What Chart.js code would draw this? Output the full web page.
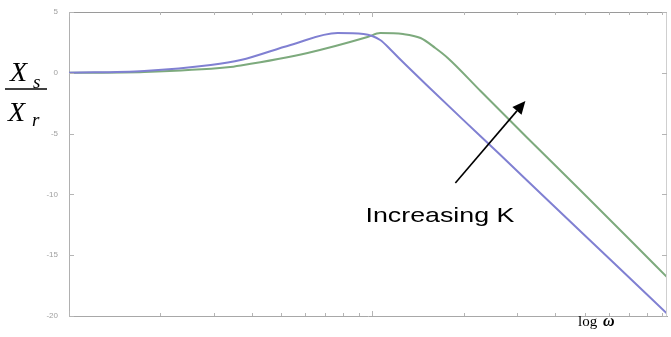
<!DOCTYPE html>
<html>
<head>
<meta charset="utf-8">
<script src="https://cdn.jsdelivr.net/npm/chart.js@4"></script>
<style>
  html, body { margin: 0; padding: 0; background: #fff; }
  #wrap { width: 671px; height: 337px; position: relative; }
</style>
</head>
<body>
<div id="wrap"><canvas id="bode"></canvas></div>
<script>
// frequency (log axis, arbitrary units) and magnitude in dB
const blueFreq = [0.1, 0.177, 0.293, 0.368, 0.537, 0.767, 0.934, 1.06, 1.15, 1.24, 1.55, 1.99, 2.64, 3.85, 6.07, 9.34];
const blueDb   = [0.0, 0.15, 0.64, 1.05, 2.29, 3.27, 3.19, 2.70, 1.88, 1.05, -1.29, -3.87, -6.76, -10.67, -15.35, -19.8];
const greenFreq = [0.1, 0.177, 0.333, 0.368, 0.611, 0.963, 1.06, 1.26, 1.44, 1.61, 1.77, 2.27, 3.24, 4.83, 7.06, 9.34];
const greenDb   = [0.0, 0.07, 0.45, 0.6, 1.63, 2.94, 3.27, 3.19, 2.86, 2.04, 1.22, -1.5, -5.36, -9.64, -13.75, -16.8];
const yTicks = [5, 0, -5, -10, -15, -20];
const xMajor = [0.1, 1];
const xMinor = [0.2, 0.3, 0.4, 0.5, 0.6, 0.7, 0.8, 0.9, 2, 3, 4, 5, 6, 7, 8, 9];

// annotation: arrow tail/head and label anchor, in data units
const arrowTail = [1.875, -9.06];
const arrowHead = [3.19, -2.32];
const labelPos = [0.948, -12.27];
const labelText = "Increasing K";

function toPoints(xs, ys) {
  return xs.map((x, i) => ({ x: x, y: ys[i] }));
}

const decorPlugin = {
  id: 'decor',
  afterDraw(chart) {
    const ctx = chart.ctx;
    const a = chart.chartArea;
    const xs = chart.scales.x;
    const ys = chart.scales.y;

    ctx.save();
    // top and right frame lines
    ctx.strokeStyle = '#9a9a9a';
    ctx.lineWidth = 1;
    ctx.beginPath();
    ctx.moveTo(a.left, a.top + 0.5);
    ctx.lineTo(a.right, a.top + 0.5);
    ctx.stroke();
    ctx.strokeStyle = '#cfcfcf';
    ctx.beginPath();
    ctx.moveTo(a.right - 0.5, a.top);
    ctx.lineTo(a.right - 0.5, a.bottom);
    ctx.stroke();

    // inward tick marks
    ctx.strokeStyle = '#b5b5b5';
    function xtick(v, len) {
      const p = Math.round(xs.getPixelForValue(v)) + 0.5;
      ctx.beginPath();
      ctx.moveTo(p, a.top);
      ctx.lineTo(p, a.top + len);
      ctx.moveTo(p, a.bottom);
      ctx.lineTo(p, a.bottom - len);
      ctx.stroke();
    }
    xMinor.forEach(v => xtick(v, 3));
    xMajor.forEach(v => xtick(v, 5));
    yTicks.forEach(v => {
      const p = Math.round(ys.getPixelForValue(v)) + 0.5;
      ctx.beginPath();
      ctx.moveTo(a.left, p);
      ctx.lineTo(a.left + 5, p);
      ctx.moveTo(a.right, p);
      ctx.lineTo(a.right - 5, p);
      ctx.stroke();
    });

    // arrow
    const tx = xs.getPixelForValue(arrowTail[0]), ty = ys.getPixelForValue(arrowTail[1]);
    const hx = xs.getPixelForValue(arrowHead[0]), hy = ys.getPixelForValue(arrowHead[1]);
    const ang = Math.atan2(hy - ty, hx - tx);
    const headLen = 13, headW = 6;
    const bx = hx - headLen * Math.cos(ang), by = hy - headLen * Math.sin(ang);
    ctx.strokeStyle = '#000';
    ctx.fillStyle = '#000';
    ctx.lineWidth = 1.6;
    ctx.beginPath();
    ctx.moveTo(tx, ty);
    ctx.lineTo(bx, by);
    ctx.stroke();
    ctx.beginPath();
    ctx.moveTo(hx, hy);
    ctx.lineTo(bx + headW * Math.sin(ang), by - headW * Math.cos(ang));
    ctx.lineTo(bx - headW * Math.sin(ang), by + headW * Math.cos(ang));
    ctx.closePath();
    ctx.fill();

    // "Increasing K" label, stretched like the scanned figure
    const lx = xs.getPixelForValue(labelPos[0]), ly = ys.getPixelForValue(labelPos[1]);
    ctx.font = '21px "Liberation Sans", Arial, sans-serif';
    ctx.textBaseline = 'alphabetic';
    const w = ctx.measureText(labelText).width;
    ctx.save();
    ctx.translate(lx, ly);
    ctx.scale(149 / w, 1);
    ctx.fillText(labelText, 0, 0);
    ctx.restore();

    // Xs / Xr label
    ctx.fillStyle = '#000';
    ctx.font = 'italic 28px "Liberation Serif", "Times New Roman", serif';
    ctx.fillText('X', 10, 81);
    ctx.fillText('X', 8, 121);
    ctx.font = 'italic 19px "Liberation Serif", "Times New Roman", serif';
    ctx.fillText('s', 33, 88);
    ctx.fillText('r', 32, 126);
    ctx.lineWidth = 1.4;
    ctx.beginPath();
    ctx.moveTo(5, 89);
    ctx.lineTo(47, 89);
    ctx.stroke();

    // log ω
    ctx.font = '15px "Liberation Serif", "Times New Roman", serif';
    ctx.fillText('log', 578, 326);
    ctx.font = 'bold italic 16px "Liberation Serif", "Times New Roman", serif';
    ctx.fillText('\u03c9', 603, 326);
    ctx.restore();
  }
};

const chart = new Chart(document.getElementById('bode'), {
  type: 'line',
  data: {
    datasets: [
      {
        label: 'K low',
        data: toPoints(blueFreq, blueDb),
        borderColor: 'rgb(128, 128, 210)',
        borderWidth: 2,
        pointRadius: 0,
        cubicInterpolationMode: 'monotone'
      },
      {
        label: 'K high',
        data: toPoints(greenFreq, greenDb),
        borderColor: 'rgb(125, 170, 125)',
        borderWidth: 2,
        pointRadius: 0,
        cubicInterpolationMode: 'monotone'
      }
    ]
  },
  options: {
    responsive: true,
    maintainAspectRatio: false,
    animation: false,
    layout: { padding: { top: 12, right: 4, left: 0, bottom: 0 } },
    plugins: {
      legend: { display: false },
      tooltip: { enabled: false }
    },
    scales: {
      x: {
        type: 'logarithmic',
        min: 0.1,
        max: 9.34,
        grid: { display: false },
        border: { color: '#a8a8a8', width: 1 },
        ticks: { display: false },
        afterFit: function(scale) { scale.height = 21; }
      },
      y: {
        min: -20,
        max: 5,
        grid: { display: false },
        border: { color: '#b0b0b0', width: 1 },
        afterBuildTicks: function(scale) {
          scale.ticks = yTicks.map(v => ({ value: v }));
        },
        ticks: {
          color: '#a0a0a0',
          font: { size: 8, family: 'Arial' },
          padding: 3
        },
        afterFit: function(scale) { scale.width = 69; }
      }
    }
  },
  plugins: [decorPlugin]
});
</script>
</body>
</html>
